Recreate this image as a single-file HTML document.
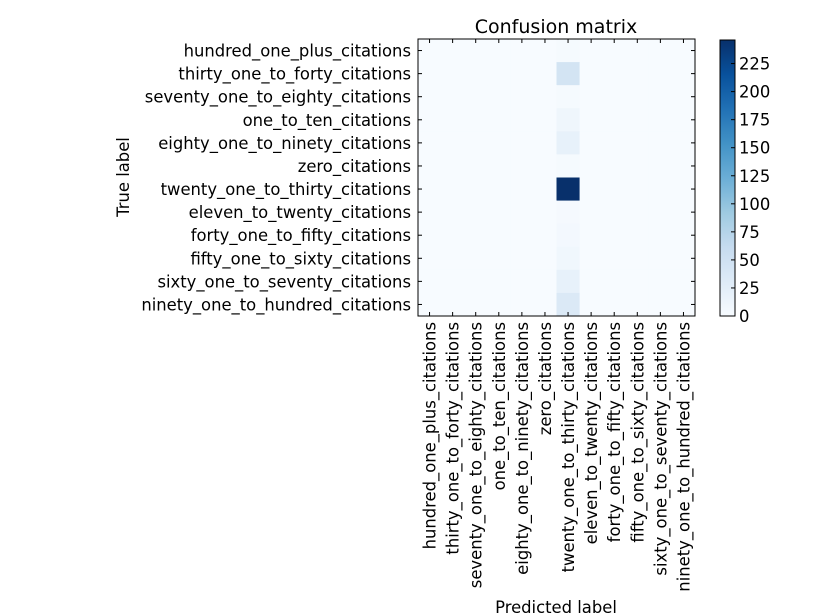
<!DOCTYPE html>
<html><head><meta charset="utf-8"><style>
body{margin:0;background:#fff}
svg{display:block;font-family:"DejaVu Sans","Liberation Sans",sans-serif}
</style></head><body>
<svg id="c" width="815" height="615"></svg>
<script>
const classes=["hundred_one_plus_citations","thirty_one_to_forty_citations","seventy_one_to_eighty_citations","one_to_ten_citations","eighty_one_to_ninety_citations","zero_citations","twenty_one_to_thirty_citations","eleven_to_twenty_citations","forty_one_to_fifty_citations","fifty_one_to_sixty_citations","sixty_one_to_seventy_citations","ninety_one_to_hundred_citations"];
const predictedCol=6;
const colValues=[2,45,2,10,20,2,246,3,5,8,20,35];
const cbTicks=[0,25,50,75,100,125,150,175,200,225];
const vmax=246;
const NS="http://www.w3.org/2000/svg";
const svg=document.getElementById('c');
function el(t,a,p){const e=document.createElementNS(NS,t);for(const k in a)e.setAttribute(k,a[k]);(p||svg).appendChild(e);return e;}
const stops=["#f7fbff","#deebf7","#c6dbef","#9ecae1","#6baed6","#4292c6","#2171b5","#08519c","#08306b"];
function hx(h){return [1,3,5].map(i=>parseInt(h.substr(i,2),16));}
function blues(t){t=Math.max(0,Math.min(1,t));const f=t*8,i=Math.min(7,Math.floor(f)),r=f-i;const a=hx(stops[i]),b=hx(stops[i+1]);return "rgb("+a.map((v,k)=>Math.round(v+(b[k]-v)*r)).join(",")+")";}
const X0=418,Y0=39,W=277,H=277,n=classes.length,cw=W/n,ch=H/n;
const FS=16.4;
const xs=i=>X0+i*cw, ys=i=>Y0+i*ch;
for(let r=0;r<n;r++)for(let c=0;c<n;c++){
 const v=c===predictedCol?colValues[r]:0;
 const e=el('rect',{x:xs(c),y:ys(r),width:cw+0.5,height:ch+0.5,fill:blues(v/vmax)});
 
 
}
const fr=el('rect',{x:X0,y:Y0,width:W,height:H,fill:'none',stroke:'#000','stroke-width':1});

for(let i=0;i<n;i++){
 const cx=xs(i)+cw/2, cy=ys(i)+ch/2;
 el('line',{x1:cx,x2:cx,y1:Y0,y2:Y0+4,stroke:'#000'});
 el('line',{x1:cx,x2:cx,y1:Y0+H,y2:Y0+H-4,stroke:'#000'});
 el('line',{x1:X0,x2:X0+4,y1:cy,y2:cy,stroke:'#000'});
 el('line',{x1:X0+W,x2:X0+W-4,y1:cy,y2:cy,stroke:'#000'});
 const yl=el('text',{x:411,y:cy+6,'text-anchor':'end','font-size':FS});yl.textContent=classes[i];
 
 const xl=el('text',{transform:`translate(${cx+6},${Y0+H+6}) rotate(-90)`,'text-anchor':'end','font-size':FS});xl.textContent=classes[i];
 
}
const t=el('text',{x:556,y:33,'text-anchor':'middle','font-size':19});t.textContent='Confusion matrix';

const yt=el('text',{transform:'translate(129,177) rotate(-90)','text-anchor':'middle','font-size':FS});yt.textContent='True label';

const xt=el('text',{x:556,y:613,'text-anchor':'middle','font-size':FS});xt.textContent='Predicted label';

const CX=720,CW=15,CY0=40,CY1=316;
const defs=el('defs',{});const g=el('linearGradient',{id:'cb',x1:0,y1:1,x2:0,y2:0},defs);
for(let i=0;i<=8;i++)el('stop',{offset:i/8,'stop-color':stops[i]},g);
const cb=el('rect',{x:CX,y:CY0,width:CW,height:CY1-CY0,fill:'url(#cb)',stroke:'#000'});

const cy=v=>CY1-(v/vmax)*(CY1-CY0);
cbTicks.forEach(v=>{
 el('line',{x1:CX+CW-4,x2:CX+CW,y1:cy(v),y2:cy(v),stroke:'#000'});
 const l=el('text',{x:CX+CW+4,y:cy(v)+6,'font-size':FS});l.textContent=v;
 
});
</script>
</body></html>
